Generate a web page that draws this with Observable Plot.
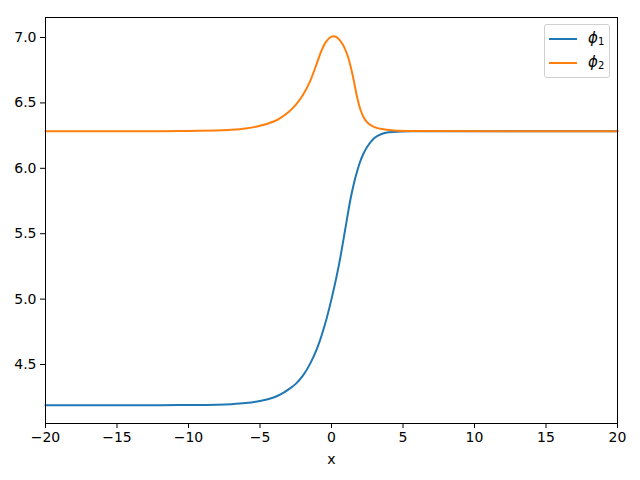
<!DOCTYPE html>
<html>
<head>
<meta charset="utf-8">
<script src="https://cdn.jsdelivr.net/npm/d3@7"></script>
<script src="https://cdn.jsdelivr.net/npm/@observablehq/plot@0.6"></script>
<style>
  html, body { margin: 0; padding: 0; background: #fff; }
  #wrap { position: relative; width: 640px; height: 480px; font-family: "DejaVu Sans", sans-serif; }
  #legend { position: absolute; left: 544px; top: 24px; width: 66px; height: 54px; border: 1px solid #d0d0d0; border-radius: 3px; background: rgba(255,255,255,0.8); box-sizing: border-box; }
  .row { position: absolute; left: 4px; height: 20px; }
  .sw { position: absolute; left: 0; width: 28px; height: 2px; }
  .lab { position: absolute; left: 39px; font-size: 15px; font-style: italic; line-height: 15px; font-family: "DejaVu Sans", sans-serif; }
  .lab sub { font-style: normal; font-size: 10px; vertical-align: -2px; }
</style>
</head>
<body>
<div id="wrap">
  <div id="chart"></div>
  <div id="legend"></div>
</div>
<script>
const seriesNames = ["ϕ1", "ϕ2"];
const seriesColors = ["#1f77b4", "#ff7f0e"];
const xTicks = [-20, -15, -10, -5, 0, 5, 10, 15, 20];
const yTicks = [4.5, 5.0, 5.5, 6.0, 6.5, 7.0];

const phi1X = [-20, -12, -10, -8, -7, -6, -5, -4, -3.5, -3, -2.5, -2, -1.5, -1, -0.5, 0, 0.5, 1.0, 1.33, 1.6, 1.8, 2.0, 2.25, 2.5, 3.0, 3.5, 4.0, 5, 6, 20];
const phi1Y = [4.189, 4.189, 4.190, 4.193, 4.197, 4.205, 4.221, 4.250, 4.275, 4.31, 4.352, 4.415, 4.505, 4.625, 4.79, 5.0, 5.25, 5.56, 5.765, 5.9, 5.98, 6.05, 6.115, 6.165, 6.232, 6.262, 6.275, 6.282, 6.283, 6.283];

const phi2X = [-20, -12, -10, -8, -7, -6, -5, -4, -3.5, -3, -2.5, -2, -1.5, -1, -0.7, -0.4, -0.1, 0.16, 0.45, 0.8, 1.1, 1.38, 1.56, 1.8, 2.05, 2.3, 2.6, 3.0, 3.5, 4.36, 6, 20];
const phi2Y = [6.283, 6.284, 6.285, 6.29, 6.295, 6.305, 6.325, 6.36, 6.39, 6.43, 6.485, 6.56, 6.665, 6.81, 6.9, 6.965, 7.0, 7.01, 6.995, 6.945, 6.87, 6.76, 6.67, 6.54, 6.44, 6.38, 6.34, 6.315, 6.3, 6.29, 6.285, 6.283];

const data = [
  ...phi1X.map((x, i) => ({x, y: phi1Y[i], s: seriesNames[0]})),
  ...phi2X.map((x, i) => ({x, y: phi2Y[i], s: seriesNames[1]}))
];

const fmt = d => (d < 0 ? "\u2212" + Math.abs(d) : String(d));

const plot = Plot.plot({
  width: 640,
  height: 480,
  marginLeft: 45,
  marginRight: 23,
  marginTop: 17,
  marginBottom: 57,
  style: {fontFamily: "DejaVu Sans, sans-serif", fontSize: "14px", color: "#000", background: "#fff"},
  x: {domain: [-20, 20]},
  y: {domain: [4.049, 7.153]},
  color: {domain: seriesNames, range: seriesColors},
  marks: [
    Plot.lineY(data, {x: "x", y: "y", stroke: "s", z: "s", strokeWidth: 2, curve: "catmull-rom"}),
    Plot.frame({stroke: "#000", strokeWidth: 1}),
    Plot.axisX({ticks: xTicks, tickFormat: fmt, tickSize: 5, tickPadding: 4, label: "x", labelAnchor: "center", labelArrow: false, labelOffset: 40, fontSize: 14}),
    Plot.axisY({ticks: yTicks, tickFormat: d => d.toFixed(1), tickSize: 5, tickPadding: 4, label: null, fontSize: 14})
  ]
});
document.getElementById("chart").appendChild(plot);

const legend = document.getElementById("legend");
seriesNames.forEach((name, i) => {
  const row = document.createElement("div");
  row.className = "row";
  row.style.top = (5 + i * 24) + "px";
  const sw = document.createElement("div");
  sw.className = "sw";
  sw.style.background = seriesColors[i];
  sw.style.top = "8px";
  const lab = document.createElement("div");
  lab.className = "lab";
  lab.style.top = "1px";
  lab.innerHTML = name.slice(0, 1) + "<sub>" + name.slice(1) + "</sub>";
  row.appendChild(sw);
  row.appendChild(lab);
  legend.appendChild(row);
});
</script>
</body>
</html>
